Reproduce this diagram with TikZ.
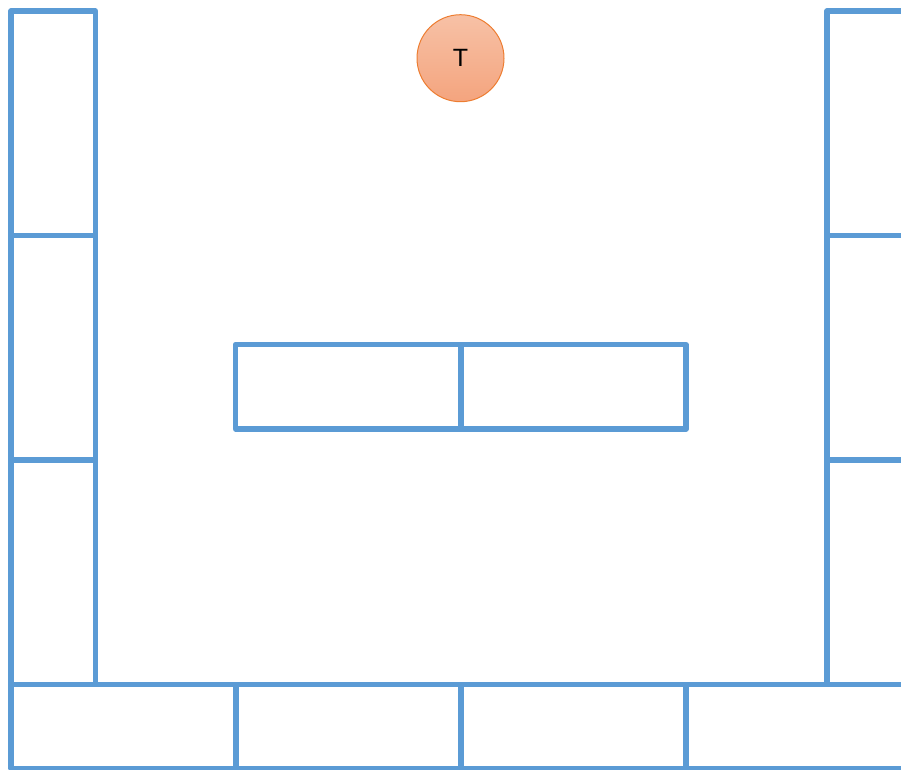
\documentclass[tikz,border=0pt]{standalone}
\usepackage{fontspec}
\setmainfont{Liberation Sans}
\definecolor{seatblue}{HTML}{5B9BD5}
\definecolor{torange}{HTML}{ED7D31}
\definecolor{ttop}{HTML}{F7C1A6}
\definecolor{tbot}{HTML}{F4A47E}
\begin{document}
\begin{tikzpicture}[x=1pt,y=-1pt,
  box/.style={draw=seatblue, line width=5.2pt, line join=round, rectangle, inner sep=0pt, outer sep=0pt, anchor=north west},
  teacher/.style={circle, draw=torange, line width=1pt, top color=ttop, bottom color=tbot, minimum size=87pt, inner sep=0pt, outer sep=0pt, font=\fontsize{25}{25}\selectfont}]
\useasboundingbox (0,0) rectangle (901,769);
\clip (0,0) rectangle (901,769);
% left column
\node[box, minimum width=84.5pt, minimum height=224.5pt] (L1) at (11,11) {};
\node[box, minimum width=84.5pt, minimum height=224.5pt] (L2) at (11,235.5) {};
\node[box, minimum width=84.5pt, minimum height=224.5pt] (L3) at (11,460) {};
% right column
\node[box, minimum width=84.5pt, minimum height=224.5pt] (R1) at (827,11) {};
\node[box, minimum width=84.5pt, minimum height=224.5pt] (R2) at (827,235.5) {};
\node[box, minimum width=84.5pt, minimum height=224.5pt] (R3) at (827,460) {};
% bottom row
\node[box, minimum width=225pt, minimum height=84pt] (B1) at (11,684.5) {};
\node[box, minimum width=225pt, minimum height=84pt] (B2) at (236,684.5) {};
\node[box, minimum width=225pt, minimum height=84pt] (B3) at (461,684.5) {};
\node[box, minimum width=225pt, minimum height=84pt] (B4) at (686,684.5) {};
% centre tables
\node[box, minimum width=225.5pt, minimum height=84.5pt] (C1) at (235.5,344.5) {};
\node[box, minimum width=225pt, minimum height=84.5pt] (C2) at (461,344.5) {};
% teacher
\node[teacher] (T) at (460.5,58.2) {T};
\end{tikzpicture}
\end{document}
